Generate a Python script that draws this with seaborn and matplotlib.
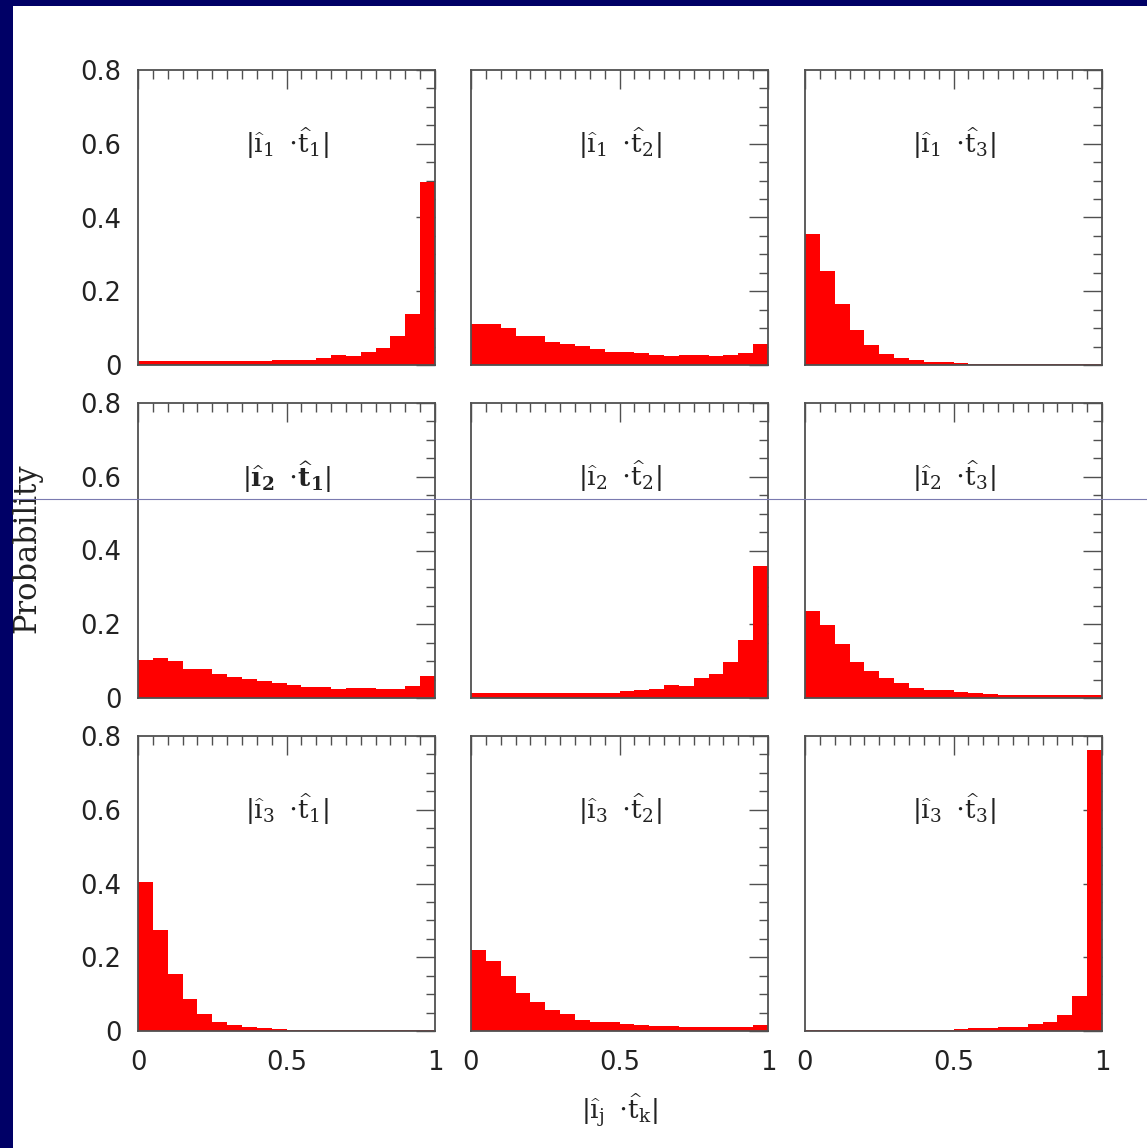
import numpy as np
import pandas as pd
import matplotlib
matplotlib.use("Agg")
import matplotlib.pyplot as plt
import seaborn as sns
from matplotlib.patches import Rectangle
from matplotlib.lines import Line2D
from matplotlib.ticker import MultipleLocator, FuncFormatter

# 20 equal bins on |i_j . t_k| in [0, 1]
n_bins = 20
bin_edges = np.linspace(0.0, 1.0, n_bins + 1)
bin_centers = 0.5 * (bin_edges[:-1] + bin_edges[1:])

# probability per bin, one list per (j, k) pair
p_i1_t1 = [0.011, 0.011, 0.011, 0.011, 0.011, 0.011, 0.011, 0.011, 0.011, 0.013,
           0.013, 0.014, 0.020, 0.026, 0.024, 0.036, 0.047, 0.078, 0.138, 0.496]
p_i1_t2 = [0.110, 0.110, 0.099, 0.080, 0.078, 0.062, 0.056, 0.052, 0.044, 0.035,
           0.034, 0.032, 0.026, 0.024, 0.026, 0.026, 0.024, 0.026, 0.032, 0.056]
p_i1_t3 = [0.355, 0.254, 0.165, 0.095, 0.054, 0.029, 0.020, 0.013, 0.008, 0.007,
           0.005, 0.004, 0.004, 0.003, 0.003, 0.003, 0.003, 0.003, 0.003, 0.003]
p_i2_t1 = [0.104, 0.108, 0.099, 0.080, 0.080, 0.065, 0.056, 0.052, 0.046, 0.040,
           0.035, 0.029, 0.029, 0.024, 0.028, 0.028, 0.024, 0.024, 0.033, 0.061]
p_i2_t2 = [0.013, 0.013, 0.013, 0.013, 0.013, 0.013, 0.013, 0.013, 0.013, 0.013,
           0.020, 0.023, 0.025, 0.034, 0.032, 0.054, 0.066, 0.098, 0.158, 0.357]
p_i2_t3 = [0.236, 0.198, 0.146, 0.098, 0.073, 0.054, 0.042, 0.026, 0.023, 0.021,
           0.015, 0.014, 0.011, 0.008, 0.008, 0.008, 0.008, 0.008, 0.008, 0.008]
p_i3_t1 = [0.405, 0.273, 0.155, 0.087, 0.046, 0.025, 0.016, 0.010, 0.007, 0.005,
           0.004, 0.004, 0.004, 0.004, 0.004, 0.004, 0.004, 0.004, 0.004, 0.004]
p_i3_t2 = [0.220, 0.190, 0.150, 0.103, 0.078, 0.057, 0.046, 0.030, 0.025, 0.025,
           0.020, 0.016, 0.014, 0.013, 0.012, 0.011, 0.011, 0.011, 0.012, 0.016]
p_i3_t3 = [0.003, 0.003, 0.003, 0.003, 0.003, 0.003, 0.003, 0.003, 0.003, 0.003,
           0.005, 0.007, 0.008, 0.010, 0.012, 0.018, 0.024, 0.044, 0.096, 0.762]

grid = [[p_i1_t1, p_i1_t2, p_i1_t3],
        [p_i2_t1, p_i2_t2, p_i2_t3],
        [p_i3_t1, p_i3_t2, p_i3_t3]]


def dot_label(j, k, bold=False):
    style = r"\mathbf" if bold else r"\mathrm"
    return (r"$|\widehat{%s{ı}}_{%s{%s}}\;\;{\cdot}\widehat{%s{t}}_{%s{%s}}|$"
            % (style, style, j, style, style, k))


panel_labels = [
    [dot_label(1, 1), dot_label(1, 2), dot_label(1, 3)],
    [dot_label(2, 1, bold=True), dot_label(2, 2), dot_label(2, 3)],
    [dot_label(3, 1), dot_label(3, 2), dot_label(3, 3)],
]

sns.set_style("white")
plt.rcParams["font.family"] = ["DejaVu Sans"]
plt.rcParams["mathtext.fontset"] = "dejavuserif"

W, H = 1147, 1148
fig = plt.figure(figsize=(W / 100, H / 100), dpi=100)
fig.patch.set_facecolor("white")

# slide frame
navy = "#000066"
fig.add_artist(Rectangle((0, 0), 13 / W, 1, transform=fig.transFigure,
                         facecolor=navy, edgecolor="none", zorder=0))
fig.add_artist(Rectangle((0, 1 - 6 / H), 1, 6 / H, transform=fig.transFigure,
                         facecolor=navy, edgecolor="none", zorder=0))

col_x = [138, 471, 805]
row_top = [70, 403, 736]
aw, ah = 297, 295
ink = "#505050"
fmt = FuncFormatter(lambda v, pos: f"{v:g}")

for r in range(3):
    for c in range(3):
        ax = fig.add_axes([col_x[c] / W, 1 - (row_top[r] + ah) / H, aw / W, ah / H])
        df = pd.DataFrame({"x": bin_centers, "p": grid[r][c]})
        sns.histplot(data=df, x="x", weights="p", bins=n_bins, binrange=(0.0, 1.0),
                     stat="count", element="step", fill=True, color="#ff0000",
                     alpha=1.0, linewidth=0, ax=ax)
        ax.set_xlim(0, 1)
        ax.set_ylim(0, 0.8)
        ax.set_xlabel("")
        ax.set_ylabel("")
        ax.xaxis.set_major_locator(MultipleLocator(0.5))
        ax.xaxis.set_minor_locator(MultipleLocator(0.05))
        ax.yaxis.set_major_locator(MultipleLocator(0.2))
        ax.yaxis.set_minor_locator(MultipleLocator(0.05))
        ax.xaxis.set_major_formatter(fmt)
        ax.yaxis.set_major_formatter(fmt)
        ax.tick_params(which="both", direction="in", top=True, right=True,
                       color=ink, width=1.0, labelsize=18.5, labelcolor="#222222")
        ax.tick_params(which="major", length=14)
        ax.tick_params(which="minor", length=6.5)
        ax.tick_params(axis="x", pad=14)
        ax.tick_params(axis="y", pad=12)
        ax.tick_params(labelbottom=(r == 2), labelleft=(c == 0))
        for s in ax.spines.values():
            s.set_color(ink)
            s.set_linewidth(1.3)
            s.set_visible(True)
        ax.text(0.5, 0.6, panel_labels[r][c], ha="center", va="center",
                fontsize=19, color="#222222")

fig.text(619.5 / W, 1 - 1110 / H,
         r"$|\widehat{\mathrm{ı}}_{\mathrm{j}}\;\;{\cdot}\widehat{\mathrm{t}}_{\mathrm{k}}|$",
         ha="center", va="center", fontsize=19, color="#222222")
fig.text(27 / W, 1 - 548 / H, "Probability", rotation=90, ha="center", va="center",
         fontsize=22, family="DejaVu Serif", color="#222222")

# thin rule across the slide
fig.add_artist(Line2D([13 / W, 1], [1 - 499 / H, 1 - 499 / H], transform=fig.transFigure,
                      color="#7a7ab0", linewidth=0.8, zorder=10))

fig.savefig("out.png", dpi=100)
